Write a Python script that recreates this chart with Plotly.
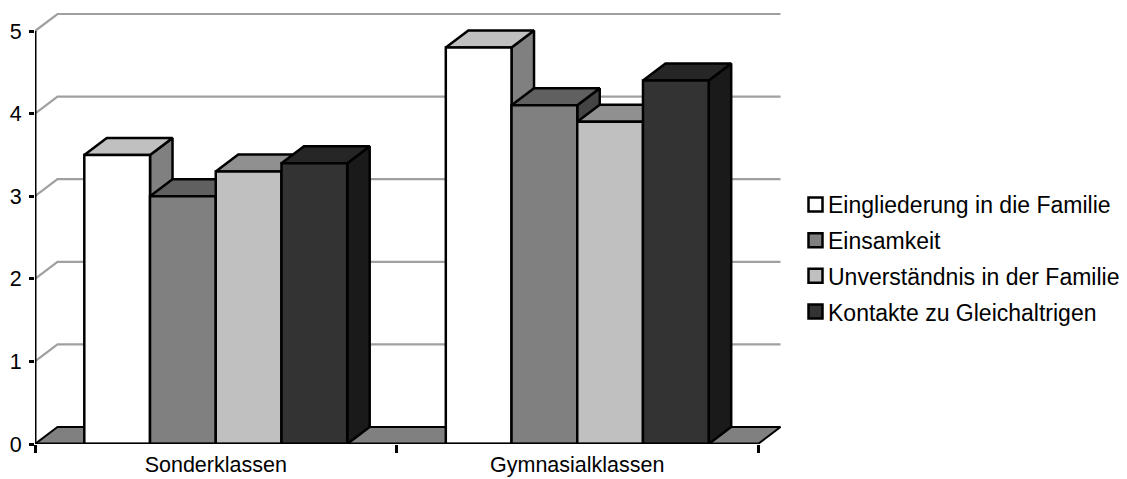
import plotly.graph_objects as go

# ---- data -------------------------------------------------------------
categories = ["Sonderklassen", "Gymnasialklassen"]
series_names = [
    "Eingliederung in die Familie",
    "Einsamkeit",
    "Unverständnis in der Familie",
    "Kontakte zu Gleichaltrigen",
]
eingliederung = [3.5, 4.8]
einsamkeit = [3.0, 4.1]
unverstaendnis = [3.3, 3.9]
kontakte = [3.4, 4.4]
y_ticks = [0, 1, 2, 3, 4, 5]

series_values = [eingliederung, einsamkeit, unverstaendnis, kontakte]

# ---- styling ----------------------------------------------------------
front_colors = ["#FFFFFF", "#808080", "#C0C0C0", "#333333"]
top_colors = ["#C0C0C0", "#606060", "#909090", "#262626"]
side_colors = ["#808080", "#444444", "#606060", "#1A1A1A"]
floor_color = "#808080"
grid_color = "#A0A0A0"
FONT = "Liberation Sans, Arial, sans-serif"

W, H = 1127, 479
L, R, T, B = 35, 333, 10, 35
PW, PH = W - L - R, H - T - B
PX_PER_CAT = 361.5          # pixels per category slot
PX_PER_UNIT = 82.6          # pixels per value unit
XMAX = PW / PX_PER_CAT
YMAX = PH / PX_PER_UNIT

# depth of the pseudo-3D extrusion, in axis units
DX = 22.5 / PX_PER_CAT
DY = 17.0 / PX_PER_UNIT

n_series = len(series_values)
bar_w = 1.0 / (n_series + 1.5)      # gap width 150 %
half_gap = 0.75 * bar_w
n_cat = len(categories)

fig = go.Figure()


def poly(xs, ys, fill, line_color="black", line_width=2.5):
    fig.add_trace(go.Scatter(
        x=list(xs) + [xs[0]], y=list(ys) + [ys[0]],
        mode="lines", fill="toself", fillcolor=fill,
        line=dict(color=line_color, width=line_width),
        hoverinfo="skip", showlegend=False,
    ))


def seg(xs, ys, color, width):
    fig.add_trace(go.Scatter(
        x=xs, y=ys, mode="lines",
        line=dict(color=color, width=width),
        hoverinfo="skip", showlegend=False,
    ))


# back-wall gridlines (run diagonally up the side wall, then across)
for v in y_ticks[1:]:
    seg([0, DX, n_cat + DX], [v, v + DY, v + DY], grid_color, 2.2)

# floor
poly([0, n_cat, n_cat + DX, DX], [0, 0, DY, DY], floor_color, "black", 2)

# bars, drawn left to right so each bar hides the side of the previous one
for c in range(n_cat):
    for s in range(n_series):
        v = series_values[s][c]
        x0 = c + half_gap + s * bar_w
        x1 = x0 + bar_w
        # side face
        poly([x1, x1 + DX, x1 + DX, x1], [0, DY, v + DY, v], side_colors[s])
        # top face
        poly([x0, x1, x1 + DX, x0 + DX], [v, v, v + DY, v + DY], top_colors[s])
        # front face
        poly([x0, x1, x1, x0], [0, 0, v, v], front_colors[s])

# axis lines
seg([0, n_cat], [0, 0], "black", 3)
seg([0, 0], [0, y_ticks[-1]], "black", 3)

# ---- legend -----------------------------------------------------------
def px_to_paper_x(px):
    return (px - L) / PW


def px_to_paper_y(py):
    return (H - B - py) / PH


legend_rows = [204.5, 240.2, 275.8, 311.5]
sw = 14
sw_left = 808.5
shapes = []
annotations = []
for s, name in enumerate(series_names):
    cy = legend_rows[s]
    shapes.append(dict(
        type="rect", xref="paper", yref="paper",
        x0=px_to_paper_x(sw_left), x1=px_to_paper_x(sw_left + sw),
        y0=px_to_paper_y(cy + sw / 2), y1=px_to_paper_y(cy - sw / 2),
        fillcolor=front_colors[s], line=dict(color="black", width=2.5),
        layer="above",
    ))
    annotations.append(dict(
        xref="paper", yref="paper",
        x=px_to_paper_x(sw_left + sw + 3), y=px_to_paper_y(cy + 1),
        xanchor="left", yanchor="middle", showarrow=False,
        text=name, font=dict(family=FONT, size=23, color="black"),
    ))

fig.update_layout(
    width=W, height=H,
    margin=dict(l=L, r=R, t=T, b=B, autoexpand=False),
    paper_bgcolor="white", plot_bgcolor="white",
    showlegend=False,
    shapes=shapes, annotations=annotations,
    font=dict(family=FONT, size=21.5, color="black"),
    xaxis=dict(
        range=[0, XMAX], showgrid=False, zeroline=False, showline=False,
        tickmode="array",
        tickvals=[c + 0.5 for c in range(n_cat)], ticktext=categories,
        ticks="", tickfont=dict(size=21.5), ticklabelstandoff=5,
        minor=dict(tickmode="array", tickvals=list(range(n_cat + 1)),
                   ticks="outside", ticklen=8, tickwidth=2.5,
                   tickcolor="black", showgrid=False),
        fixedrange=True,
    ),
    yaxis=dict(
        range=[0, YMAX], showgrid=False, zeroline=False, showline=False,
        tickmode="array", tickvals=y_ticks,
        ticks="outside", ticklen=5, tickwidth=2.5, tickcolor="black",
        tickfont=dict(size=21.5), ticklabelstandoff=3, fixedrange=True,
    ),
)

fig.write_html("out.html")
